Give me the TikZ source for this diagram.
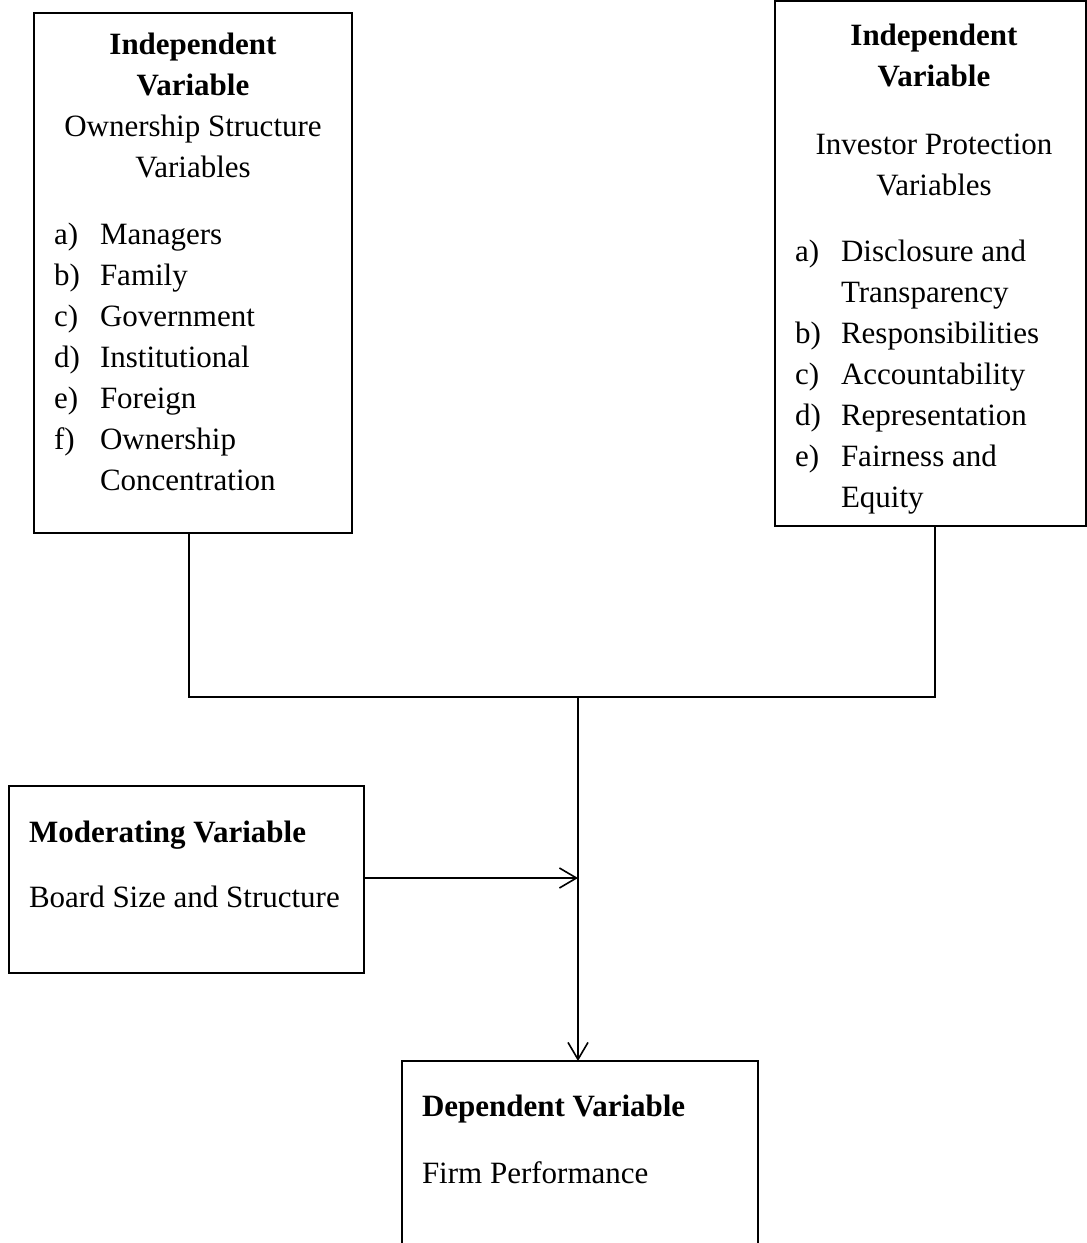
\documentclass[tikz,border=0pt]{standalone}
\usepackage{fontspec}
\setmainfont{Liberation Serif}
\usetikzlibrary{arrows.meta,calc}
\begin{document}
\begin{tikzpicture}[x=1pt,y=-1pt,
  box/.style={draw=black,line width=1.6pt,rectangle,inner sep=0pt,outer sep=0pt,anchor=north west},
  txt/.style={inner sep=0pt,outer sep=0pt,font=\fontsize{31}{41}\selectfont},
  hd/.style={txt,font=\fontsize{31}{41}\selectfont\bfseries},
  link/.style={draw=black,line width=1.6pt},
  arr/.style={link,-{Straight Barb[length=17pt,width=20pt,line width=1.6pt]}}]
\clip (0,0) rectangle (1087,1243);
\fill[white] (0,0) rectangle (1087,1243);

% boxes
\node[box,minimum width=318pt,minimum height=520pt] (own) at (34,13) {};
\node[box,minimum width=311pt,minimum height=525pt] (inv) at (775,1) {};
\node[box,minimum width=355pt,minimum height=187pt] (mod) at (9,786) {};
\node[box,minimum width=356pt,minimum height=200pt] (dep) at (402,1061) {};

% left box text
\node[hd,anchor=base] (o1) at (193,54) {Independent};
\node[hd,anchor=base] (o2) at (193,95) {Variable};
\node[txt,anchor=base] (o3) at (193,136) {Ownership Structure};
\node[txt,anchor=base] (o4) at (193,177) {Variables};
\foreach \l/\t/\y [count=\i] in {a)/Managers/244,b)/Family/285,c)/Government/326,d)/Institutional/367,e)/Foreign/408,f)/Ownership/449}{
  \node[txt,anchor=base west] (ol\i) at (54,\y) {\l};
  \node[txt,anchor=base west] (ot\i) at (100,\y) {\t};
}
\node[txt,anchor=base west] (ot7) at (100,490) {Concentration};

% right box text
\node[hd,anchor=base] (i1) at (934,45) {Independent};
\node[hd,anchor=base] (i2) at (934,86) {Variable};
\node[txt,anchor=base] (i3) at (934,154) {Investor Protection};
\node[txt,anchor=base] (i4) at (934,195) {Variables};
\node[txt,anchor=base west] (il1) at (795,261) {a)};
\node[txt,anchor=base west] (it1) at (841,261) {Disclosure and};
\node[txt,anchor=base west] (it1b) at (841,302) {Transparency};
\node[txt,anchor=base west] (il2) at (795,343) {b)};
\node[txt,anchor=base west] (it2) at (841,343) {Responsibilities};
\node[txt,anchor=base west] (il3) at (795,384) {c)};
\node[txt,anchor=base west] (it3) at (841,384) {Accountability};
\node[txt,anchor=base west] (il4) at (795,425) {d)};
\node[txt,anchor=base west] (it4) at (841,425) {Representation};
\node[txt,anchor=base west] (il5) at (795,466) {e)};
\node[txt,anchor=base west] (it5) at (841,466) {Fairness and};
\node[txt,anchor=base west] (it5b) at (841,507) {Equity};

% moderating text
\node[hd,anchor=base west] (m1) at (29,842) {Moderating Variable};
\node[txt,anchor=base west] (m2) at (29,907) {Board Size and Structure};

% dependent text
\node[hd,anchor=base west] (d1) at (422,1116) {Dependent Variable};
\node[txt,anchor=base west] (d2) at (422,1183) {Firm Performance};

% connectors
\coordinate (jl) at (189,697);
\coordinate (jr) at (935,697);
\coordinate (jm) at (578,697);
\coordinate (mj) at (578,878);
\draw[link] (own.south -| jl) -- (jl) -- (jr) -- (inv.south -| jr);
\draw[arr] (jm) -- (dep.north -| jm);
\draw[arr] (mod.east |- mj) -- (mj);
\end{tikzpicture}
\end{document}
